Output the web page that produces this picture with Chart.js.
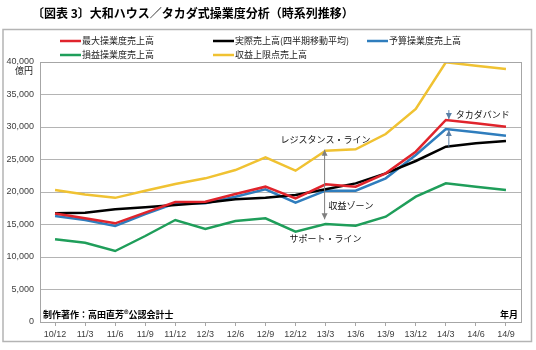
<!DOCTYPE html>
<html>
<head>
<meta charset="utf-8">
<script src="https://cdn.jsdelivr.net/npm/chart.js@4.4.1/dist/chart.umd.min.js"></script>
<style>
    html, body { margin: 0; padding: 0; background: #fff; }
    #wrap { width: 536px; height: 350px; position: relative; }
</style>
</head>
<body>
<div id="wrap"><canvas id="chart" width="536" height="350"></canvas></div>
<script>
// 四半期ラベル
const labels = ['10/12','11/3','11/6','11/9','11/12','12/3','12/6','12/9','12/12','13/3','13/6','13/9','13/12','14/3','14/6','14/9'];

// 億円
const maxOpSales = [16700,15950,15180,16820,18460,18510,19690,20820,19030,21180,20820,22870,26200,31080,30560,30050];
const actualSales = [16720,16820,17330,17640,18000,18360,18870,19130,19540,20410,21330,22870,24770,26970,27490,27850];
const budgetSales = [16300,15700,14770,16610,18260,18260,19280,20410,18360,20200,20200,22100,25690,29690,29180,28670];
const breakEvenSales = [12720,12200,10920,13230,15690,14310,15540,15950,13900,15080,14820,16200,19280,21330,20820,20310];
const upperLimitSales = [20300,19600,19100,20200,21230,22100,23380,25330,23280,26360,26570,28920,32770,39950,39440,38920];

const yTicks = [0, 5000, 10000, 15000, 20000, 25000, 30000, 35000, 40000];

const JP = '"Noto Sans CJK JP", "Noto Sans", sans-serif';
const NUM = '"Liberation Sans", Arial, sans-serif';

function arrowHead(ctx, x, y, dir) {
    // dir: 1 = down, -1 = up
    ctx.beginPath();
    ctx.moveTo(x, y);
    ctx.lineTo(x - 3, y - 6 * dir);
    ctx.lineTo(x + 3, y - 6 * dir);
    ctx.closePath();
    ctx.fill();
}

function vArrow(ctx, x, y1, y2, color, both) {
    ctx.save();
    ctx.strokeStyle = color;
    ctx.fillStyle = color;
    ctx.lineWidth = 1;
    ctx.beginPath();
    ctx.moveTo(x, y1);
    ctx.lineTo(x, y2);
    ctx.stroke();
    const dir = y2 > y1 ? 1 : -1;
    arrowHead(ctx, x, y2, dir);
    if (both) arrowHead(ctx, x, y1, -dir);
    ctx.restore();
}

const decorPlugin = {
    id: 'decor',
    beforeDraw(chart) {
        const ctx = chart.ctx;
        ctx.save();
        ctx.fillStyle = '#fff';
        ctx.fillRect(0, 0, chart.width, chart.height);
        ctx.restore();
    },
    afterDraw(chart) {
        const ctx = chart.ctx;
        const area = chart.chartArea;
        const x = chart.scales.x;
        const y = chart.scales.y;

        ctx.save();
        // outer frame
        ctx.strokeStyle = '#b4b4b4';
        ctx.lineWidth = 1.5;
        ctx.strokeRect(3, 29.5, 528.5, 312);
        // plot frame
        ctx.strokeStyle = '#a6a6a6';
        ctx.lineWidth = 1;
        ctx.strokeRect(area.left + 0.5, area.top + 0.5, area.right - area.left, area.bottom - area.top);

        // title
        ctx.fillStyle = '#000';
        ctx.font = 'bold 12px ' + JP;
        ctx.textBaseline = 'middle';
        ctx.textAlign = 'left';
        ctx.fillText('〔図表 3〕大和ハウス／タカダ式操業度分析（時系列推移）', 32, 13);

        // legend
        ctx.font = '9px ' + JP;
        const cols = [60, 213, 367];
        chart.data.datasets.forEach((ds, i) => {
            const lx = cols[i % 3];
            const ly = i < 3 ? 41 : 55;
            ctx.strokeStyle = ds.borderColor;
            ctx.lineWidth = 2.5;
            ctx.beginPath();
            ctx.moveTo(lx, ly);
            ctx.lineTo(lx + 21, ly);
            ctx.stroke();
            ctx.fillStyle = '#222';
            ctx.fillText(ds.label, lx + 22, ly);
        });

        // unit
        ctx.font = '9px ' + JP;
        ctx.textAlign = 'right';
        ctx.fillStyle = '#222';
        ctx.fillText('億円', 33, 71);

        // bottom notes
        ctx.font = 'bold 9px ' + JP;
        ctx.textAlign = 'left';
        ctx.fillStyle = '#000';
        ctx.fillText('制作著作：高田直芳®公認会計士', area.left + 3, area.bottom - 7);
        ctx.textAlign = 'right';
        ctx.fillText('年月', area.right - 3, area.bottom - 7);

        // annotations
        const grey = '#7f7f7f';
        const bandX = x.getPixelForValue(13) + 3;
        vArrow(ctx, bandX, y.getPixelForValue(32600), y.getPixelForValue(maxOpSales[13]) - 1, '#5a7fa6', false);
        vArrow(ctx, bandX, y.getPixelForValue(actualSales[13]), y.getPixelForValue(budgetSales[13]) + 1, '#5a7fa6', false);

        const zoneX = x.getPixelForValue(9) - 1;
        vArrow(ctx, zoneX, y.getPixelForValue(upperLimitSales[9]) - 1, y.getPixelForValue(15800), grey, true);

        ctx.font = '9px ' + JP;
        ctx.fillStyle = '#111';
        ctx.textAlign = 'left';
        ctx.fillText('タカダバンド', bandX + 7, y.getPixelForValue(32400) + 3);
        ctx.textAlign = 'center';
        ctx.fillText('レジスタンス・ライン', x.getPixelForValue(9), y.getPixelForValue(28000));
        ctx.textAlign = 'left';
        ctx.fillText('収益ゾーン', zoneX + 4, y.getPixelForValue(17850));
        ctx.textAlign = 'center';
        ctx.fillText('サポート・ライン', x.getPixelForValue(9), y.getPixelForValue(12900));
        ctx.restore();
    }
};

function series(label, data, color) {
    return {
        label: label,
        data: data,
        borderColor: color,
        backgroundColor: color,
        borderWidth: 2.5,
        pointRadius: 0,
        tension: 0,
        fill: false
    };
}

new Chart(document.getElementById('chart'), {
    type: 'line',
    data: {
        labels: labels,
        datasets: [
            series('最大操業度売上高', maxOpSales, '#e0242c'),
            series('実際売上高(四半期移動平均)', actualSales, '#000000'),
            series('予算操業度売上高', budgetSales, '#2f7dbd'),
            series('損益操業度売上高', breakEvenSales, '#1f9e5a'),
            series('収益上限点売上高', upperLimitSales, '#f0c232')
        ]
    },
    options: {
        responsive: false,
        animation: false,
        layout: { padding: { left: 3, right: 15, top: 62, bottom: 0 } },
        plugins: {
            legend: { display: false },
            tooltip: { enabled: false }
        },
        scales: {
            x: {
                offset: true,
                grid: { drawOnChartArea: false, drawTicks: true, tickLength: 4, color: '#a6a6a6' },
                border: { color: '#a6a6a6' },
                ticks: { font: { family: NUM, size: 9 }, color: '#404040', padding: 3, maxRotation: 0, autoSkip: false },
                afterFit(scale) { scale.height = 28; }
            },
            y: {
                min: 0,
                max: 40000,
                afterBuildTicks(scale) { scale.ticks = yTicks.map(v => ({ value: v })); },
                grid: { color: '#b4b4b4', drawTicks: false },
                border: { color: '#a6a6a6' },
                ticks: {
                    font: { family: NUM, size: 9 },
                    color: '#404040',
                    padding: 6,
                    callback: v => v.toLocaleString('en-US')
                },
                afterFit(scale) { scale.width = 37; }
            }
        }
    },
    plugins: [decorPlugin]
});
</script>
</body>
</html>
